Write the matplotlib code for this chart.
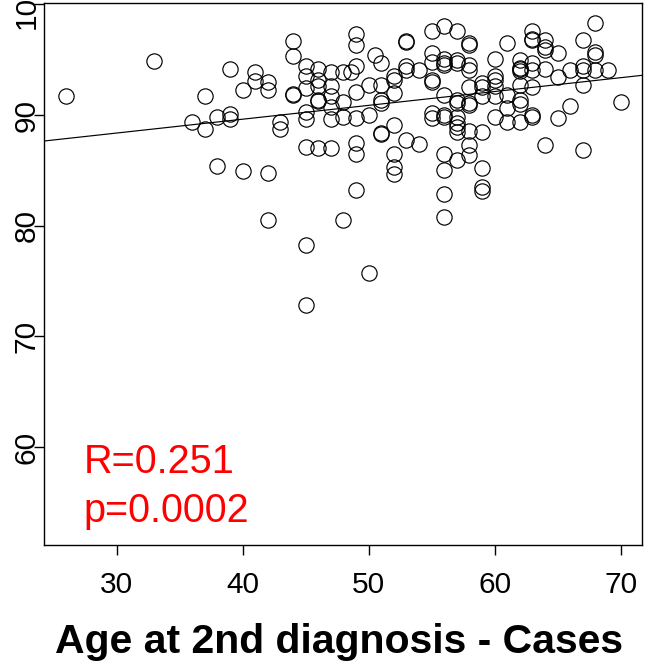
import matplotlib
matplotlib.use("Agg")
import matplotlib.pyplot as plt
import numpy as np

################################################ data
age = [26, 33, 36, 37, 37, 38, 38, 39, 39, 39, 40, 40, 41, 41,
       42, 42, 42, 42, 43, 43, 44, 44, 44, 44,
       45, 45, 45, 45, 45, 45, 45, 45,
       46, 46, 46, 46, 46, 46,
       47, 47, 47, 47, 47, 47,
       48, 48, 48, 48, 48.6,
       49, 49, 49, 49, 49, 49, 49, 49,
       50, 50, 50, 50.5,
       51, 51, 51, 51, 51, 51,
       52, 52, 52, 52, 52, 52, 52,
       53, 53, 53, 53, 53,
       54, 54,
       55, 55, 55, 55, 55, 55, 55,
       56, 56, 56, 56, 56, 56, 56, 56, 56, 56, 56,
       57, 57, 57, 57, 57, 57, 57, 57, 57, 57,
       58, 58, 58, 58, 58, 58, 58, 58, 58, 58,
       59, 59, 59, 59, 59, 59, 59,
       60, 60, 60, 60, 60, 60,
       61, 61, 61, 61,
       62, 62, 62, 62, 62, 62, 62, 62,
       63, 63, 63, 63, 63, 63, 63, 63,
       64, 64, 64, 64, 64,
       65, 65, 65,
       66, 66,
       67, 67, 67, 67, 67,
       68, 68, 68, 68,
       69, 70]

score = [91.7, 94.9, 89.4, 91.7, 88.7, 89.8, 85.4, 94.2, 90.05, 89.6, 92.3, 84.9, 93.9, 93.1,
         93.0, 92.3, 84.8, 80.5, 89.4, 88.7, 96.7, 95.3, 91.9, 91.8,
         94.4, 93.5, 92.4, 90.3, 89.6, 87.1, 78.3, 72.8,
         94.2, 93.2, 92.6, 91.35, 91.3, 87.0,
         93.9, 92.6, 91.7, 90.75, 89.6, 87.0,
         93.9, 91.2, 89.85, 80.5, 93.9,
         97.3, 96.3, 94.4, 92.1, 89.7, 87.5, 86.5, 83.2,
         92.7, 90.0, 75.7, 95.4,
         94.7, 92.7, 91.4, 91.05, 88.3, 88.35,
         93.5, 93.2, 92.0, 89.1, 86.5, 85.3, 84.7,
         96.7, 96.6, 94.4, 94.1, 87.7,
         94.1, 87.4,
         97.6, 95.6, 94.8, 93.2, 93.0, 90.15, 89.7,
         98.0, 95.1, 94.7, 94.5, 91.8, 90.0, 89.8, 86.5, 85.0, 82.9, 80.8,
         97.6, 95.0, 94.7, 91.4, 91.05, 89.85, 89.25, 88.95, 88.5, 85.9,
         96.5, 96.3, 94.5, 94.1, 92.5, 91.05, 90.9, 88.6, 87.3, 86.4,
         92.9, 92.5, 91.7, 88.5, 85.2, 83.5, 83.1,
         95.1, 93.5, 93.2, 92.6, 91.7, 89.85,
         96.5, 91.8, 90.6, 89.4,
         95.0, 94.2, 94.25, 94.0, 92.7, 91.4, 91.0, 89.4,
         97.6, 96.9, 96.8, 94.7, 94.1, 92.5, 89.85, 90.0,
         96.8, 96.1, 95.9, 94.2, 87.3,
         95.6, 93.4, 89.7,
         94.1, 90.8,
         96.8, 94.4, 94.1, 92.7, 86.8,
         98.3, 95.7, 95.4, 94.1,
         94.1, 91.2]

# fitted line as drawn in the picture
fit_intercept = 84.62
fit_slope = 0.125

x_ticks = [30, 40, 50, 60, 70]
y_ticks = [60, 70, 80, 90, 100]

stats_text = ["R=0.251", "p=0.0002"]
xlab = "Age at 2nd diagnosis - Cases"

###################################################################### plot
tick_font = ["Liberation Sans Narrow", "Liberation Sans", "DejaVu Sans"]

fig = plt.figure(figsize=(6.53, 6.68), dpi=100)
ax = fig.add_axes([44/653, 1 - 545/668, (642 - 44)/653, (545 - 3.3)/668])

ax.plot(age, score, linestyle="none", marker="o", markersize=11,
        markerfacecolor="none", markeredgecolor="black", markeredgewidth=0.85)
ax.axline((0, fit_intercept), slope=fit_slope, color="black", linewidth=0.85)

ax.set_xlim(24.24, 71.7)
ax.set_ylim(51.16, 100.09)

ax.set_xticks(x_ticks)
ax.set_yticks(y_ticks)
ax.set_xticklabels([str(t) for t in x_ticks], family=tick_font, fontsize=21.5)
ax.set_yticklabels([str(t) for t in y_ticks], family=tick_font, fontsize=21.5,
                   rotation=90, va="center")
ax.tick_params(axis="x", length=7, width=1, pad=12)
ax.tick_params(axis="y", length=7, width=1, pad=-4.5)
for s in ax.spines.values():
    s.set_linewidth(1)

ax.text(27.4, 57.66, stats_text[0], color="red", fontsize=28.5,
        family=["Liberation Sans", "DejaVu Sans"], va="baseline")
ax.text(27.4, 53.26, stats_text[1], color="red", fontsize=28.5,
        family=["Liberation Sans", "DejaVu Sans"], va="baseline")

fig.text(339/653, 1 - 642/668, xlab, ha="center", va="center",
         fontsize=29.5, fontweight="bold", family=["Liberation Sans", "DejaVu Sans"])

fig.savefig("out.png", dpi=100)
